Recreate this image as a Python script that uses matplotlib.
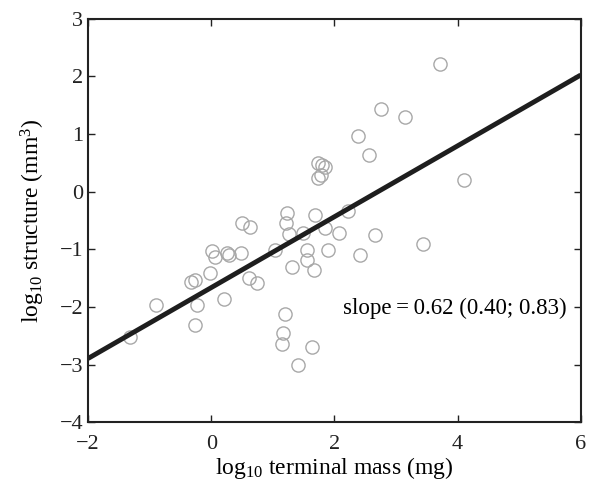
import numpy as np
import matplotlib
matplotlib.use('Agg')
import matplotlib.pyplot as plt

plt.rcParams['font.family'] = ['Liberation Serif', 'DejaVu Serif']
plt.rcParams['mathtext.fontset'] = 'custom'
plt.rcParams['mathtext.rm'] = 'Liberation Serif'
plt.rcParams['mathtext.it'] = 'Liberation Serif:italic'

# data (log10 terminal mass, log10 structure)
mass = [3.71, 2.75, 3.14, 2.38, 2.56, 4.10,
        1.74, 1.80, 1.84, 1.78, 1.73,
        1.68, 2.22, 2.07, 1.84, 2.66, 3.44, 2.41, 1.90, 1.55, 1.55, 1.67,
        1.64, 1.41, 1.19, 1.17, 1.15, 1.31, 1.23, 1.21, 1.26, 1.49, 1.04,
        0.50, 0.63, 0.48, 0.25, 0.29, 0.01, 0.06, -0.02, 0.61, 0.74,
        -0.33, -0.27, -0.23, -0.26, 0.21, -0.90, -1.32]
structure = [2.22, 1.44, 1.30, 0.97, 0.64, 0.20,
             0.50, 0.47, 0.42, 0.29, 0.24,
             -0.41, -0.34, -0.72, -0.63, -0.75, -0.91, -1.10, -1.01, -1.01, -1.19, -1.36,
             -2.70, -3.01, -2.12, -2.46, -2.65, -1.31, -0.37, -0.54, -0.74, -0.72, -1.01,
             -0.54, -0.61, -1.06, -1.07, -1.10, -1.03, -1.14, -1.42, -1.50, -1.59,
             -1.57, -1.54, -1.97, -2.32, -1.86, -1.97, -2.53]

slope = 0.615
intercept = -1.665
fit_x = [-2, 6]

fig = plt.figure(figsize=(5.95, 4.83), dpi=100)
ax = fig.add_axes([0.148, 0.126, 0.828, 0.835])

ax.plot(mass, structure, 'o', mfc='none', mec='#a8a8a8', ms=9.5, mew=1.0)
fx = np.array(fit_x)
ax.plot(fx, slope * fx + intercept, color='#1e1e1e', lw=3.5, solid_capstyle='butt')

ax.text(5.77, -2.02, 'slope\u2009=\u20090.62 (0.40; 0.83)', ha='right', va='center', fontsize=16.5)

ax.set_xlim(-2, 6)
ax.set_ylim(-4, 3)
ax.set_xticks([-2, 0, 2, 4, 6])
ax.set_yticks(range(-4, 4))
ax.set_xticklabels(['\u22122', '0', '2', '4', '6'])
ax.set_yticklabels(['\u22124', '\u22123', '\u22122', '\u22121', '0', '1', '2', '3'])
ax.tick_params(direction='in', length=5, width=1, top=True, right=True, labelsize=16, colors='#222222')
ax.tick_params(axis='x', pad=9)
for s in ax.spines.values():
    s.set_linewidth(1.5)
    s.set_color('#222222')
ax.set_xlabel('log$_{10}$ terminal mass (mg)', fontsize=17, labelpad=1)
ax.set_ylabel('log$_{10}$ structure (mm$^3$)', fontsize=17, labelpad=9)

fig.savefig('out.png', dpi=100)
